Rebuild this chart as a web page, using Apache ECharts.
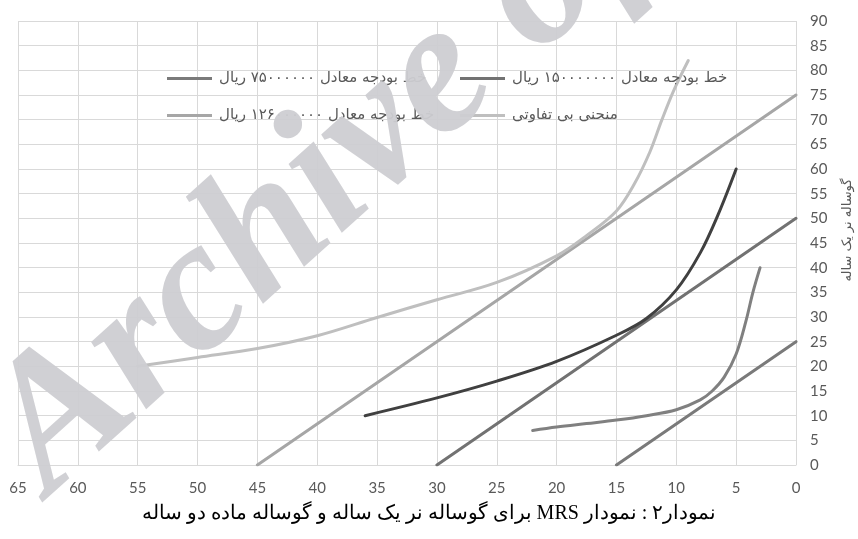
<!DOCTYPE html>
<html>
<head>
<meta charset="utf-8">
<script src="https://cdn.jsdelivr.net/npm/echarts@6/dist/echarts.min.js"></script>
<style>html,body{margin:0;padding:0;background:#fff}#c{width:858px;height:539px}</style>
</head>
<body>
<div id="c"></div>
<script>
// Tick settings
const xTicks = {min: 0, max: 65, interval: 5};
const yTicks = {min: 0, max: 90, interval: 5};

// Legend / series names
const nameBudget75 = 'خط بودجه معادل ۷۵۰۰۰۰۰۰ ریال';
const nameBudget150 = 'خط بودجه معادل ۱۵۰۰۰۰۰۰۰ ریال';
const nameBudget126 = 'خط بودجه معادل ۱۲۶۰۰۰۰۰۰ ریال';
const nameCurve = 'منحنی بی تفاوتی';
const yName = 'گوساله نر یک ساله';
const titleText = '\u202B' + 'نمودار۲ : نمودار MRS برای گوساله نر یک ساله و گوساله ماده دو ساله' + '\u202C';
const watermark = 'Archive of SID';

// Budget lines [x, y]
const budget75 = [[15, 0], [0, 25]];
const budget150 = [[30, 0], [0, 50]];
const budget126 = [[45, 0], [0, 75]];

// Indifference curves [x, y]
const curveLow = [[22, 7], [20, 7.7], [17.5, 8.4], [15, 9.1], [12.5, 10], [10, 11.2], [8, 13.2], [7, 15], [6, 17.8], [5, 22.5], [4.2, 29], [3.6, 35], [3, 40]];
const curveMid = [[36, 10], [30, 13.6], [25, 17], [20, 21], [15, 26.3], [12.5, 29.7], [10, 35.5], [8, 43], [6.5, 50.8], [5, 60]];
const curveHigh = [[55, 20], [50, 21.8], [45, 23.6], [40, 26.2], [35, 29.9], [30, 33.5], [25, 37], [20, 42.4], [17.5, 46.5], [15, 51.5], [13.5, 57], [12.2, 63.5], [11.2, 70], [10.2, 76], [9, 82]];

const chart = echarts.init(document.getElementById('c'), null, {renderer: 'canvas'});

function lineSeries(name, data, color, smooth, z) {
  return {
    name: name, type: 'line', data: data, showSymbol: false, symbol: 'none',
    smooth: smooth,
    lineStyle: {color: color, width: 3, cap: 'round'},
    itemStyle: {color: color}, z: z || 2, animation: false
  };
}

function legendAt(left, top, name) {
  return {
    left: left, top: top, padding: 0, orient: 'horizontal', icon: 'rect', itemWidth: 45, itemHeight: 3,
    selectedMode: false, data: [name],
    textStyle: {color: '#595959', fontSize: 15, fontFamily: 'DejaVu Sans, sans-serif', padding: [0, 0, 0, 2]}
  };
}

chart.setOption({
  animation: false,
  backgroundColor: '#fff',
  grid: {left: 18, right: 62, top: 21, bottom: 74, containLabel: false},
  legend: [
    legendAt(167, 71, nameBudget75),
    legendAt(460, 71, nameBudget150),
    legendAt(167, 108, nameBudget126),
    legendAt(460, 108, nameCurve)
  ],
  xAxis: {
    type: 'value', inverse: true, min: xTicks.min, max: xTicks.max, interval: xTicks.interval,
    axisLine: {show: true, lineStyle: {color: '#d9d9d9'}}, axisTick: {show: false},
    axisLabel: {color: '#595959', fontSize: 15, fontFamily: 'Lato, sans-serif', margin: 16},
    splitLine: {show: true, lineStyle: {color: '#d9d9d9', width: 1}}
  },
  yAxis: {
    type: 'value', position: 'right', min: yTicks.min, max: yTicks.max, interval: yTicks.interval,
    axisLine: {show: false}, axisTick: {show: false},
    axisLabel: {color: '#595959', fontSize: 15, fontFamily: 'Lato, sans-serif', margin: 14, align: 'left'},
    splitLine: {show: true, lineStyle: {color: '#d9d9d9', width: 1}}
  },
  series: [
    lineSeries(nameBudget75, budget75, '#7a7a7a', false, 3),
    lineSeries(nameBudget150, budget150, '#727272', false, 3),
    lineSeries(nameBudget126, budget126, '#a6a6a6', false, 3),
    lineSeries('curveLow', curveLow, '#808080', 0.35, 3),
    lineSeries('curveMid', curveMid, '#404040', 0.35, 4),
    lineSeries(nameCurve, curveHigh, '#bfbfbf', 0.35, 3)
  ],
  graphic: [
    {type: 'text', left: 'center', top: 504, z: 10, style: {text: titleText, fill: '#000', font: '20px "Liberation Serif", "DejaVu Serif", serif'}},
    {type: 'text', x: 848, y: 230, rotation: Math.PI / 2, z: 10,
      style: {text: yName, fill: '#595959', font: '13px "DejaVu Sans", sans-serif', align: 'center', verticalAlign: 'middle'}},
    {type: 'text', x: 80, y: 530, rotation: 0.733, z: 20, silent: true,
      style: {text: watermark, fill: 'rgba(205,205,210,0.95)', font: 'italic bold 189px "Liberation Serif", serif', align: 'left', verticalAlign: 'bottom'}}
  ]
});
</script>
</body>
</html>
